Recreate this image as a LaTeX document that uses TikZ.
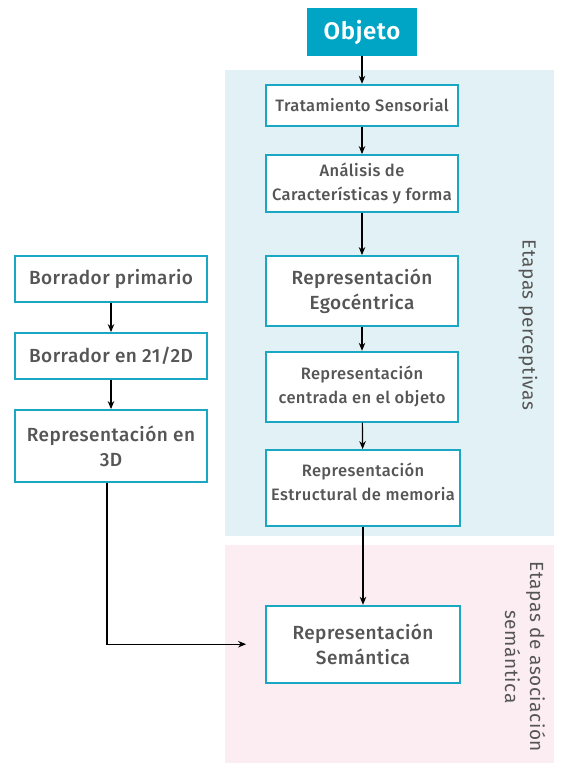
\documentclass[tikz,border=0pt]{standalone}
\usepackage{fontspec}
\setmainfont{Fira Sans}[UprightFont={Fira Sans Medium}, BoldFont={Fira Sans SemiBold}, LetterSpace=2.5]
\newfontfamily\sidefont{Fira Sans}[LetterSpace=3]
\usetikzlibrary{arrows.meta}
\definecolor{teal}{HTML}{1AA7C4}
\definecolor{objfill}{HTML}{00A5C6}
\definecolor{percbg}{HTML}{E2F1F6}
\definecolor{semabg}{HTML}{FCEDF2}
\definecolor{txt}{HTML}{555555}
\tikzset{
  box/.style={draw=teal, line width=1.8pt, fill=white, text=txt, align=center, inner sep=0pt},
  small/.style={font=\fontsize{16.5}{24}\selectfont},
  big/.style={font=\fontsize{19}{25}\selectfont},
  arr/.style={line width=1.2pt, -{Stealth[length=8pt,width=6.5pt]}},
  side/.style={text=txt, align=center, rotate=-90, font=\sidefont\fontsize{19}{25}\selectfont}
}
\begin{document}
\begin{tikzpicture}[x=1pt,y=-1pt]
\useasboundingbox (0,0) rectangle (569,774);
\fill[percbg] (225,70) rectangle (554,536);
\fill[semabg] (225,545) rectangle (554,763);
\node[fill=objfill, text=white, minimum width=110pt, minimum height=48pt, inner sep=0pt, font=\fontsize{24}{25}\selectfont\bfseries] (obj) at (362,32) {Objeto};
\node[box, small, minimum width=192pt, minimum height=41pt] (trat) at (362,105.2) {Tratamiento Sensorial};
\node[box, small, minimum width=192pt, minimum height=57pt] (anal) at (362,183.5) {Análisis de\\Características y forma};
\node[box, big, minimum width=192pt, minimum height=70pt] (ego) at (362,291) {Representación\\Egocéntrica};
\node[box, small, minimum width=192pt, minimum height=70pt] (cent) at (362,386.7) {Representación\\centrada en el objeto};
\node[box, small, minimum width=194pt, minimum height=76pt, text depth=12pt] (estr) at (363,488) {Representación\\Estructural de memoria};
\node[box, big, minimum width=194pt, minimum height=77pt] (sem) at (363,644.2) {Representación\\Semántica};
\node[box, big, minimum width=192pt, minimum height=46pt] (bp) at (111,278.7) {Borrador primario};
\node[box, big, minimum width=192pt, minimum height=46pt] (b2) at (111,356) {Borrador en 21/2D};
\node[box, big, minimum width=192pt, minimum height=72pt] (r3) at (111,446) {Representación en\\3D};
\node[side] (lp) at (528,325) {Etapas perceptivas};
\node[side] (ls) at (525,657) {Etapas de asociación\\semántica};
\draw[arr] (obj) -- (trat);
\draw[arr] (trat) -- (anal);
\draw[arr] (anal) -- (ego);
\draw[arr] (ego) -- (cent);
\draw[arr] (cent) -- (estr);
\draw[arr] (estr) -- (sem);
\draw[arr] (bp) -- (b2);
\draw[arr] (b2) -- (r3);
\draw[arr, shorten >=19pt] ([xshift=-4pt]r3.south) |- (sem.west);
\end{tikzpicture}
\end{document}
